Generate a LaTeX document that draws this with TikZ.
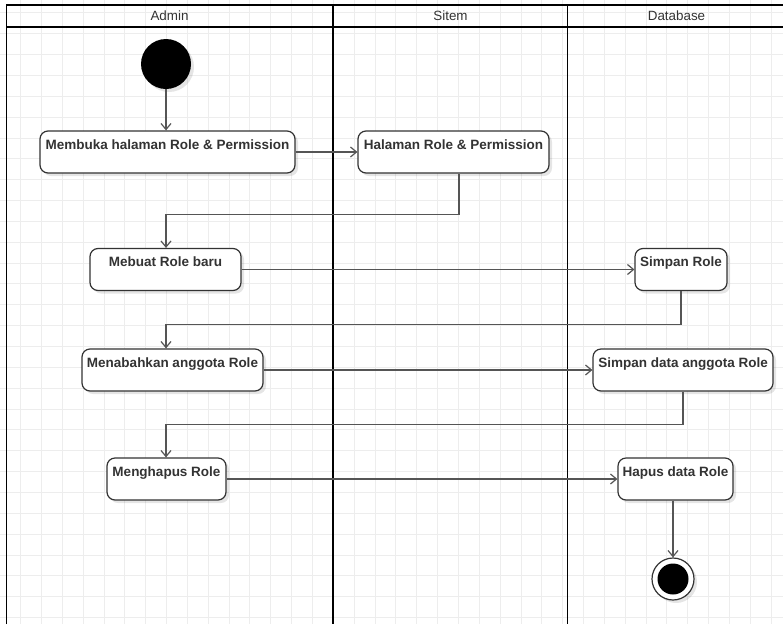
\documentclass[tikz,border=0pt]{standalone}
\usepackage{fontspec}
\setmainfont{Liberation Sans}
\usetikzlibrary{arrows.meta,shadows}
\definecolor{gridgray}{HTML}{EDEDED}
\definecolor{inkgray}{HTML}{333333}
\definecolor{flowgray}{HTML}{555555}
\tikzset{
    gridline/.style={gridgray,line width=0.8pt},
    lane/.style={black,line width=1.6pt},
    lanetitle/.style={text=inkgray,font=\fontsize{13.4}{16}\selectfont},
    softshadow/.style={drop shadow={shadow xshift=3pt,shadow yshift=-3pt,opacity=0.1,fill=black}},
    activity/.style={draw=inkgray,fill=white,line width=1.2pt,rounded corners=8pt,inner sep=0pt,minimum height=42pt,text height=18pt,text depth=24pt,text=inkgray,font=\fontsize{13.5}{16}\selectfont\bfseries,softshadow},
    initial/.style={circle,fill=black,minimum size=50pt,inner sep=0pt,softshadow},
    final/.style={circle,draw=inkgray,fill=white,line width=1.2pt,minimum size=42pt,inner sep=0pt,softshadow,path picture={\fill[black] (path picture bounding box.center) circle (15.5pt);}},
    flow/.style={flowgray,line width=1.2pt,-{Straight Barb[length=6pt,width=10pt]}}
}
\begin{document}
\begin{tikzpicture}[x=1pt,y=-1pt]
\useasboundingbox (0,0) rectangle (783,624);
\fill[white] (0,0) rectangle (783,624);
\foreach \k in {0,...,37} \draw[gridline] ({20.5+20.85*\k},0)--++(0,624);
\foreach \k in {0,...,29} \draw[gridline] (0,{12.8+20.85*\k})--++(783,0);
\draw[lane] (6.5,624) |- (786,5);
\draw[lane] (6.5,27)--(786,27);
\draw[lane] (333,5)--(333,624);
\draw[lane] (567.5,5)--(567.5,624);
\draw[lane] (786,5)--(786,624);
\node[lanetitle] (admin) at (169.5,16) {Admin};
\node[lanetitle] (sitem) at (450.5,16) {Sitem};
\node[lanetitle] (database) at (676.5,16) {Database};
\node[initial] (start) at (166,64) {};
\node[activity,minimum width=255pt] (buka) at (167.5,152) {Membuka halaman Role \& Permission};
\node[activity,minimum width=191pt] (halaman) at (453.5,152) {Halaman Role \& Permission};
\node[activity,minimum width=151pt] (buat) at (165.5,269.5) {Mebuat Role baru};
\node[activity,minimum width=92pt] (simpan) at (681,269.5) {Simpan Role};
\node[activity,minimum width=181pt] (tambah) at (172.5,370) {Menabahkan anggota Role};
\node[activity,minimum width=180pt] (simpananggota) at (683,370) {Simpan data anggota Role};
\node[activity,minimum width=119pt] (hapus) at (166.5,479) {Menghapus Role};
\node[activity,minimum width=115pt] (hapusdata) at (675.5,479) {Hapus data Role};
\node[final] (end) at (673,579) {};
\draw[flow] (start.south)--(start |- buka.north);
\draw[flow] (buka)--(halaman);
\draw[flow] ([xshift=5.5pt]halaman.south)--++(0,41) -| (buat.north -| start);
\draw[flow] (buat)--(simpan);
\draw[flow] (simpan.south)--++(0,33) -| (tambah.north -| start);
\draw[flow] (tambah)--(simpananggota);
\draw[flow] (simpananggota.south)--++(0,33) -| (hapus.north -| start);
\draw[flow] (hapus)--(hapusdata);
\draw[flow] (hapusdata.south -| end)--(end.north);
\end{tikzpicture}
\end{document}
